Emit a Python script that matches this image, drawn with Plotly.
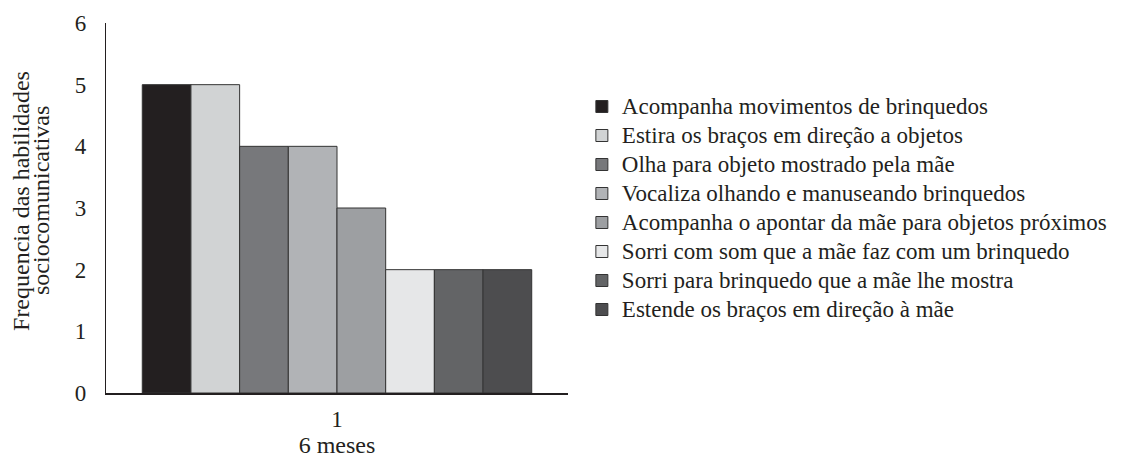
import plotly.graph_objects as go

categories = ["1"]
series_names = [
    "Acompanha movimentos de brinquedos",
    "Estira os braços em direção a objetos",
    "Olha para objeto mostrado pela mãe",
    "Vocaliza olhando e manuseando brinquedos",
    "Acompanha o apontar da mãe para objetos próximos",
    "Sorri com som que a mãe faz com um brinquedo",
    "Sorri para brinquedo que a mãe lhe mostra",
    "Estende os braços em direção à mãe",
]
series_values = [5, 5, 4, 4, 3, 2, 2, 2]
series_colors = ["#231F20", "#D1D3D4", "#77787B", "#B1B3B6",
                 "#9D9FA2", "#E6E7E8", "#636466", "#4D4D4F"]
y_ticks = [0, 1, 2, 3, 4, 5, 6]
x_title = "6 meses"
y_title_lines = ["Frequencia das habilidades", "sociocomunicativas"]

FONT = "Liberation Serif"
TXT = "#231F20"

fig = go.Figure()
for name, val, col in zip(series_names, series_values, series_colors):
    fig.add_trace(go.Bar(
        x=categories, y=[val],
        name='<span style="font-size:23px">' + name + '</span>',
        marker=dict(color=col, line=dict(color="#333333", width=1)),
    ))

# page body has an 8px margin, so the figure is sized 8px smaller
W, H = 1120, 450
L, R, T, B = 98, 560, 15, 65

fig.update_layout(
    width=W, height=H,
    margin=dict(l=L, r=R, t=T, b=B, pad=0, autoexpand=False),
    paper_bgcolor="white", plot_bgcolor="white",
    barmode="group", bargap=0.157, bargroupgap=0,
    font=dict(family=FONT, size=23, color=TXT),
    showlegend=True,
    legend=dict(
        x=1.03, xanchor="left", y=0.5, yanchor="middle",
        font=dict(family=FONT, size=20, color=TXT),
        bgcolor="rgba(0,0,0,0)", borderwidth=0,
        tracegroupgap=0, itemwidth=30,
    ),
    xaxis=dict(
        type="category", range=[-0.5, 0.5],
        showline=True, linecolor="#231F20", linewidth=1.5,
        showgrid=False, zeroline=False, ticks="",
        ticklabelstandoff=5,
        tickfont=dict(family=FONT, size=23, color=TXT),
        title=dict(text=x_title, font=dict(family=FONT, size=24, color=TXT), standoff=22),
    ),
    yaxis=dict(
        range=[0, 6], tickvals=y_ticks,
        showline=True, linecolor="#231F20", linewidth=1.3,
        showgrid=False, zeroline=False, ticks="",
        ticklabelstandoff=14,
        tickfont=dict(family=FONT, size=23, color=TXT),
    ),
)

for i, line in enumerate(y_title_lines):
    fig.add_annotation(
        text=line, textangle=-90,
        xref="paper", yref="paper", x=0, y=0.519,
        xanchor="center", yanchor="middle",
        xshift=-85 + 20 * i, showarrow=False,
        font=dict(family=FONT, size=24, color=TXT),
    )

fig.write_html("out.html")
